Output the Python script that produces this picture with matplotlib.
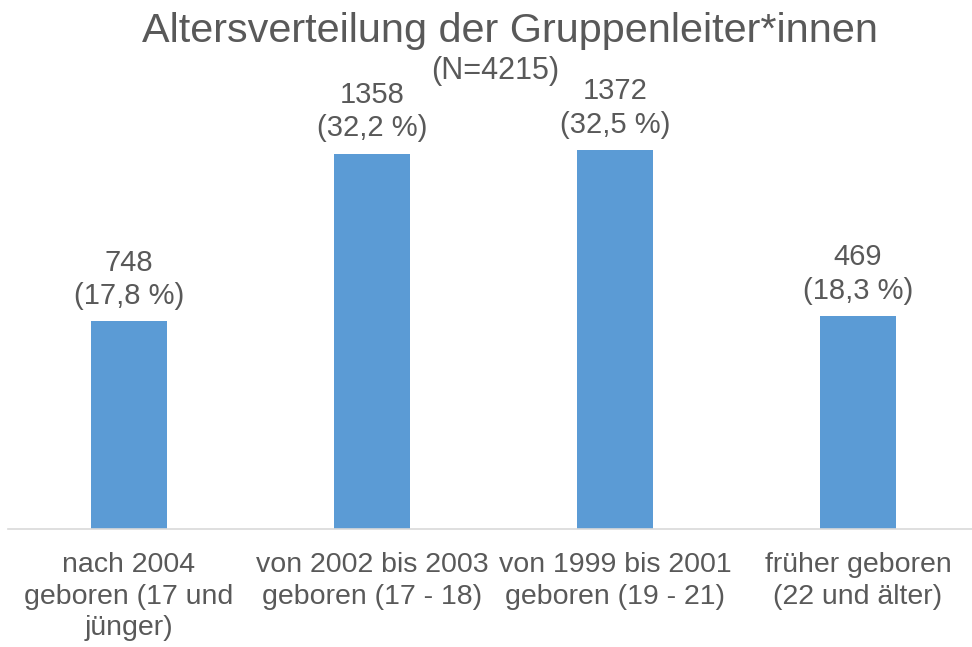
import numpy as np
import matplotlib
matplotlib.use("Agg")
import matplotlib.pyplot as plt

# Data
categories = ["nach 2004\ngeboren (17 und\njünger)",
              "von 2002 bis 2003\ngeboren (17 - 18)",
              "von 1999 bis 2001\ngeboren (19 - 21)",
              "früher geboren\n(22 und älter)"]
counts = [748, 1358, 1372, 469]
percents = [17.8, 32.2, 32.5, 18.3]

title = "Altersverteilung der Gruppenleiter*innen"
subtitle = "(N=4215)"

text_color = "#595959"
bar_color = "#5B9BD5"

plt.rcParams['font.family'] = ['Liberation Sans', 'DejaVu Sans']

fig = plt.figure(figsize=(9.72, 6.47), dpi=100)
ax = fig.add_axes([7.5 / 972, 1 - 529 / 647, 1.0, (529 - 62.6) / 647])

x = np.arange(len(categories))
bars = ax.bar(x, percents, width=0.313, color=bar_color)

ax.set_xlim(-0.5, 3.5)
ax.set_ylim(0, 40)

# value labels
for xi, c, p in zip(x, counts, percents):
    lbl = "{}\n({} %)".format(c, str(p).replace(".", ","))
    ax.annotate(lbl, (xi, p), xytext=(0, 8), textcoords="offset points",
                ha="center", va="bottom", fontsize=21, color=text_color,
                linespacing=1.26)

ax.set_xticks(x)
ax.set_xticklabels(categories, fontsize=20.5, color=text_color, linespacing=1.28)
ax.tick_params(axis="x", length=0, pad=16.5)
ax.set_yticks([])

for s in ["top", "right", "left"]:
    ax.spines[s].set_visible(False)
ax.spines["bottom"].set_color("#D9D9D9")
ax.spines["bottom"].set_linewidth(1.2)

fig.text(510 / 972, 1 - 42 / 647, title, ha="center", va="baseline",
         fontsize=29.8, color=text_color)
fig.text(495 / 972, 1 - 79 / 647, subtitle, ha="center", va="baseline",
         fontsize=22, color=text_color)

fig.savefig("out.png", dpi=100)
